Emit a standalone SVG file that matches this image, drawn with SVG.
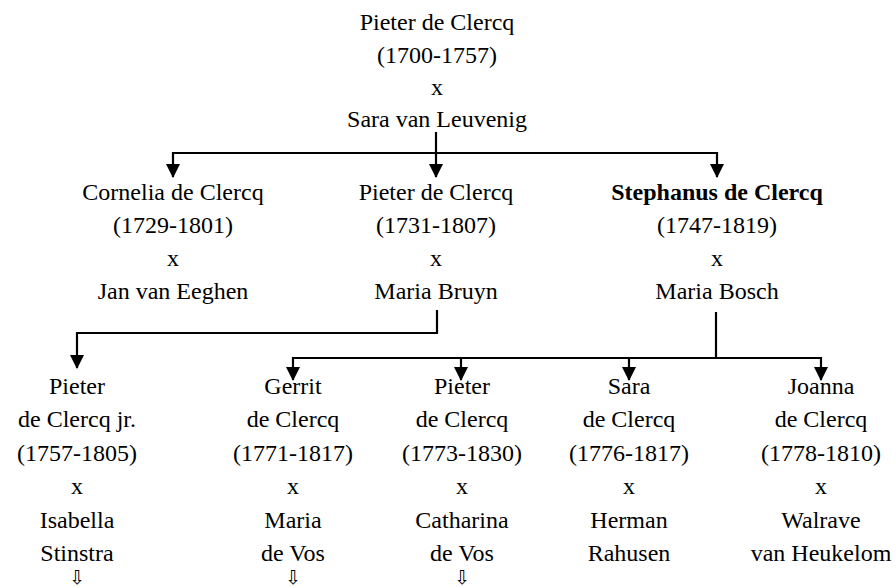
<svg xmlns="http://www.w3.org/2000/svg" width="896" height="587" viewBox="0 0 896 587">
<style>
text{font-family:'Liberation Serif','Times New Roman',Times,serif;font-size:24px;fill:#000;text-anchor:middle}
.b{font-weight:bold}
.dn{font-family:'DejaVu Sans',sans-serif;font-size:19px;fill:#000}
.c{fill:none;stroke:#000;stroke-width:2.2}
</style>
<defs>
<marker id="ah" markerWidth="14" markerHeight="14" viewBox="0 0 14 14" refX="13" refY="7" orient="auto" markerUnits="userSpaceOnUse"><path d="M0,0 L14,7 L0,14 Z" fill="#000"/></marker>
</defs>
<rect width="896" height="587" fill="#fff"/>
<g id="connectors">
<polyline class="c" points="436,132 436,153"/>
<polyline class="c" points="436,153 173,153 173,177" marker-end="url(#ah)"/>
<polyline class="c" points="436,153 436,177" marker-end="url(#ah)"/>
<polyline class="c" points="436,153 717,153 717,177" marker-end="url(#ah)"/>
<polyline class="c" points="437,310 437,333 77,333 77,368" marker-end="url(#ah)"/>
<polyline class="c" points="716,312 716,358"/>
<polyline class="c" points="716,358 293,358 293,380" marker-end="url(#ah)"/>
<polyline class="c" points="461,358 461,380" marker-end="url(#ah)"/>
<polyline class="c" points="629,358 629,380" marker-end="url(#ah)"/>
<polyline class="c" points="716,358 821,358 821,380" marker-end="url(#ah)"/>
</g>
<g font-family="Liberation Serif, Times New Roman, serif">
<g id="n-root"><text x="437" y="30">Pieter de Clercq</text><text x="437" y="63">(1700-1757)</text><text x="437" y="95">x</text><text x="437" y="127">Sara van Leuvenig</text></g>
<g id="n-cornelia"><text x="173" y="200">Cornelia de Clercq</text><text x="173" y="233">(1729-1801)</text><text x="173" y="266">x</text><text x="173" y="299">Jan van Eeghen</text></g>
<g id="n-pieter1731"><text x="436" y="200">Pieter de Clercq</text><text x="436" y="233">(1731-1807)</text><text x="436" y="266">x</text><text x="436" y="299">Maria Bruyn</text></g>
<g id="n-stephanus"><text x="717" y="200" class="b">Stephanus de Clercq</text><text x="717" y="233">(1747-1819)</text><text x="717" y="266">x</text><text x="717" y="299">Maria Bosch</text></g>
<g id="n-pieterjr"><text x="77" y="394">Pieter</text><text x="77" y="427">de Clercq jr.</text><text x="77" y="461">(1757-1805)</text><text x="77" y="494">x</text><text x="77" y="528">Isabella</text><text x="77" y="561">Stinstra</text><text x="77" y="584" class="dn">⇩</text></g>
<g id="n-gerrit"><text x="293" y="394">Gerrit</text><text x="293" y="427">de Clercq</text><text x="293" y="461">(1771-1817)</text><text x="293" y="494">x</text><text x="293" y="528">Maria</text><text x="293" y="561">de Vos</text><text x="293" y="584" class="dn">⇩</text></g>
<g id="n-pieter1773"><text x="462" y="394">Pieter</text><text x="462" y="427">de Clercq</text><text x="462" y="461">(1773-1830)</text><text x="462" y="494">x</text><text x="462" y="528">Catharina</text><text x="462" y="561">de Vos</text><text x="462" y="584" class="dn">⇩</text></g>
<g id="n-sara"><text x="629" y="394">Sara</text><text x="629" y="427">de Clercq</text><text x="629" y="461">(1776-1817)</text><text x="629" y="494">x</text><text x="629" y="528">Herman</text><text x="629" y="561">Rahusen</text></g>
<g id="n-joanna"><text x="821" y="394">Joanna</text><text x="821" y="427">de Clercq</text><text x="821" y="461">(1778-1810)</text><text x="821" y="494">x</text><text x="821" y="528">Walrave</text><text x="821" y="561">van Heukelom</text></g>
</g>
</svg>
